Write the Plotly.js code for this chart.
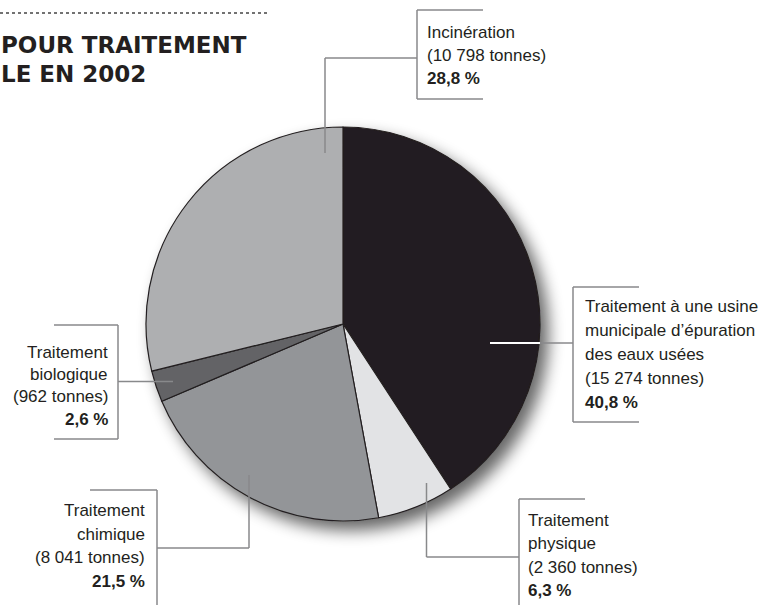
<!DOCTYPE html>
<html>
<head>
<meta charset="utf-8">
<script src="https://cdn.plot.ly/plotly-3.0.1.min.js"></script>
<style>
html,body{margin:0;padding:0;background:#fff;}
#chart{width:759px;height:605px;}
</style>
</head>
<body>
<div id="chart"></div>
<script>
// ---- data ----
const categories = [
  "Traitement à une usine municipale d’épuration des eaux usées",
  "Traitement physique",
  "Traitement chimique",
  "Traitement biologique",
  "Incinération"
];
const labelLines = [
  ["Traitement à une usine", "municipale d’épuration", "des eaux usées"],
  ["Traitement", "physique"],
  ["Traitement", "chimique"],
  ["Traitement", "biologique"],
  ["Incinération"]
];
const tonnes = [15274, 2360, 8041, 962, 10798];
const sliceColors = ["#231f20", "#e2e3e5", "#939598", "#636466", "#aeafb1"];
const titleLines = ["POUR TRAITEMENT", "LE EN 2002"];

// ---- layout helpers (pixel -> paper) ----
const W = 759, H = 605;
const px = x => x / W;
const py = y => 1 - y / H;

const total = tonnes.reduce((a, b) => a + b, 0);
const fmtT = v => String(v).replace(/\B(?=(\d{3})+(?!\d))/g, " ");
const fmtP = v => (Math.round(v / total * 1000) / 10).toFixed(1).replace(".", ",") + " %";

// label placement (layout only)
const labelPos = [
  {x: 585, align: "left",  base: 312,  step: 24},
  {x: 528, align: "left",  base: 526,  step: 23.5},
  {x: 145, align: "right", base: 516.5, step: 23.6},
  {x: 108, align: "right", base: 358,  step: 22.5},
  {x: 427, align: "left",  base: 38.5, step: 23}
];

const FONT = "Liberation Sans, Arial, Helvetica, sans-serif";
const FS = 17;
const annotations = [];
labelLines.forEach((lines, i) => {
  const p = labelPos[i];
  const all = lines.concat(["(" + fmtT(tonnes[i]) + " tonnes)", "<b>" + fmtP(tonnes[i]) + "</b>"]);
  all.forEach((t, k) => {
    const base = p.base + k * p.step;
    annotations.push({
      text: t, showarrow: false, xref: "paper", yref: "paper",
      x: px(p.x + (p.align === "left" ? -2 : 2)), y: py(base - 6),
      xanchor: p.align, yanchor: "middle", align: p.align,
      font: {family: FONT, size: FS, color: "#231f20"}
    });
  });
});
titleLines.forEach((t, k) => {
  annotations.push({
    text: "<b>" + t + "</b>", showarrow: false, xref: "paper", yref: "paper",
    x: px(-1), y: py(53 + k * 29 - 8), xanchor: "left", yanchor: "middle", align: "left",
    font: {family: "DejaVu Sans, sans-serif", size: 23, color: "#231f20"}
  });
});

// leader lines and brackets (layout decoration)
const G = "#88898b";
function seg(x0, y0, x1, y1, color, w) {
  return {type: "line", xref: "paper", yref: "paper", x0: px(x0), y0: py(y0), x1: px(x1), y1: py(y1),
          line: {color: color || G, width: w || 1.5}};
}
const shapes = [
  seg(0, 13, 268, 13, "#444", 1.6),
  // incinération
  seg(325, 153, 325, 58), seg(325, 58, 417, 58),
  seg(483, 10, 417, 10), seg(417, 10, 417, 99), seg(417, 99, 483, 99),
  // usine
  seg(490, 343, 540, 343, "#ffffff", 2), seg(540, 343, 573, 343),
  seg(639, 287, 573, 287), seg(573, 287, 573, 422), seg(573, 422, 639, 422),
  // physique
  seg(426.5, 483, 426.5, 557), seg(426.5, 557, 519, 557),
  seg(585, 499, 519, 499), seg(519, 499, 519, 606),
  // chimique
  seg(249, 475, 249, 548), seg(249, 548, 157, 548),
  seg(90, 490, 157, 490), seg(157, 490, 157, 606),
  // biologique
  seg(173, 381.5, 118, 381.5),
  seg(54, 325, 118, 325), seg(118, 325, 118, 439), seg(118, 439, 54, 439)
];
shapes[0].line.dash = "dot";

const cx = 343, cy = 324, r = 197;
const trace = {
  type: "pie",
  labels: categories,
  values: tonnes,
  sort: false,
  direction: "clockwise",
  rotation: 0,
  textinfo: "none",
  hoverinfo: "none",
  showlegend: false,
  marker: {colors: sliceColors, line: {color: "#231f20", width: 1.2}},
  domain: {x: [px(cx - r), px(cx + r)], y: [py(cy + r), py(cy - r)]}
};

const layout = {
  width: W, height: H,
  margin: {l: 0, r: 0, t: 0, b: 0},
  paper_bgcolor: "#ffffff",
  plot_bgcolor: "#ffffff",
  showlegend: false,
  annotations: annotations,
  shapes: shapes
};

Plotly.newPlot("chart", [trace], layout, {staticPlot: true}).then(gd => {
  const svg = gd.querySelector("svg.main-svg");
  const NS = "http://www.w3.org/2000/svg";
  let defs = svg.querySelector("defs");
  if (!defs) { defs = document.createElementNS(NS, "defs"); svg.insertBefore(defs, svg.firstChild); }
  const f = document.createElementNS(NS, "filter");
  f.setAttribute("id", "pieShadow");
  f.setAttribute("x", "-20%"); f.setAttribute("y", "-20%");
  f.setAttribute("width", "150%"); f.setAttribute("height", "150%");
  f.innerHTML =
    '<feGaussianBlur in="SourceAlpha" stdDeviation="8"/>' +
    '<feOffset dx="8" dy="9" result="ob"/>' +
    '<feComponentTransfer result="sh"><feFuncA type="linear" slope="0.6"/></feComponentTransfer>' +
    '<feMerge><feMergeNode in="sh"/><feMergeNode in="SourceGraphic"/></feMerge>';
  defs.appendChild(f);
  const tr = svg.querySelector(".pielayer .trace");
  if (tr) tr.setAttribute("filter", "url(#pieShadow)");
});
</script>
</body>
</html>
